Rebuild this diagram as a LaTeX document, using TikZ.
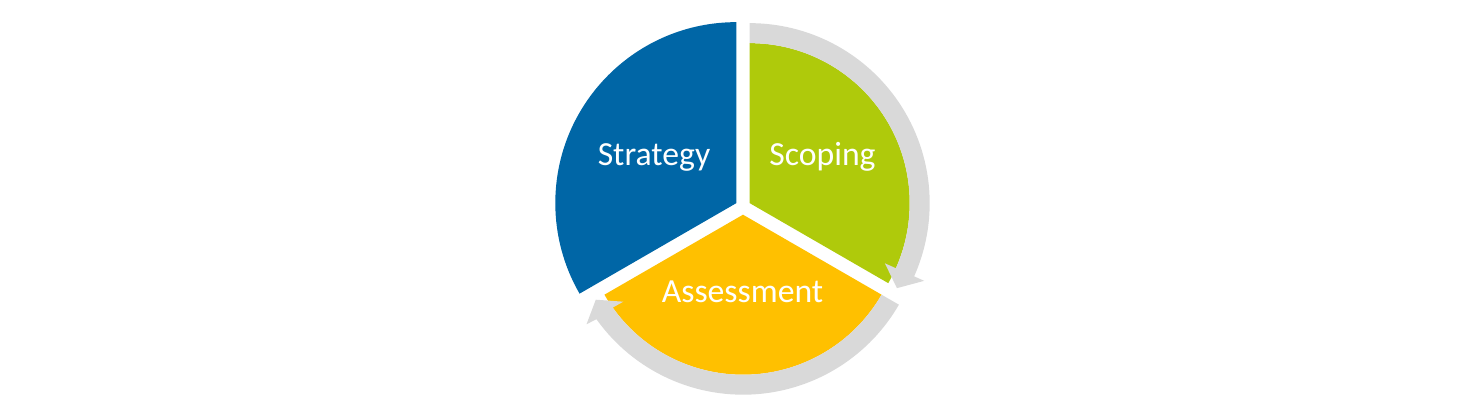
\documentclass[tikz,border=0pt]{standalone}
\usepackage{fontspec}
\setmainfont{Carlito}
\usepackage{tikz}

\definecolor{stratblue}{RGB}{0,102,166}
\definecolor{scopegreen}{RGB}{175,202,11}
\definecolor{assessyellow}{RGB}{255,192,0}
\definecolor{cyclegray}{RGB}{217,217,217}

\tikzset{
  phaselabel/.style={text=white, anchor=base, inner sep=0pt,
    font=\fontsize{33.7}{40}\selectfont},
  cyclearrow/.style={fill=cyclegray},
}

\begin{document}
\begin{tikzpicture}[x=1pt, y=1pt]
  \useasboundingbox (0,0) rectangle (1480,407);

  % strategy (left), no arrow
  \begin{scope}[shift={(736.3,203.85)}]
    \fill[stratblue] (0,0) -- (90:181) arc[start angle=90, end angle=210, radius=181] -- cycle;
  \end{scope}

  % scoping (right) with gray arrow round it
  \begin{scope}[shift={(749.7,203.85)}]
    \fill[scopegreen] (0,0) -- (90:160) arc[start angle=90, end angle=-30, radius=160] -- cycle;
    \fill[cyclearrow] (90:160) arc[start angle=90, end angle=-24, radius=160]
      -- (-24:148) -- (-30:170) -- (-24:191) -- (-24:180)
      arc[start angle=-24, end angle=90, radius=180] -- cycle;
  \end{scope}

  % assessment (bottom) with gray arrow round it
  \begin{scope}[shift={(743,192.3)}]
    \fill[assessyellow] (0,0) -- (210:160) arc[start angle=210, end angle=330, radius=160] -- cycle;
    \fill[cyclearrow] (330:160) arc[start angle=330, end angle=215.5, radius=160]
      -- (216:148) -- (210:170) -- (215:191) -- (215.5:180)
      arc[start angle=215.5, end angle=330, radius=180] -- cycle;
  \end{scope}

  \node[phaselabel] (strategy) at (654,241.3) {Strategy};
  \node[phaselabel] (scoping) at (822.5,241.3) {Scoping};
  \node[phaselabel] (assessment) at (742.5,104) {Assessment};
\end{tikzpicture}
\end{document}
